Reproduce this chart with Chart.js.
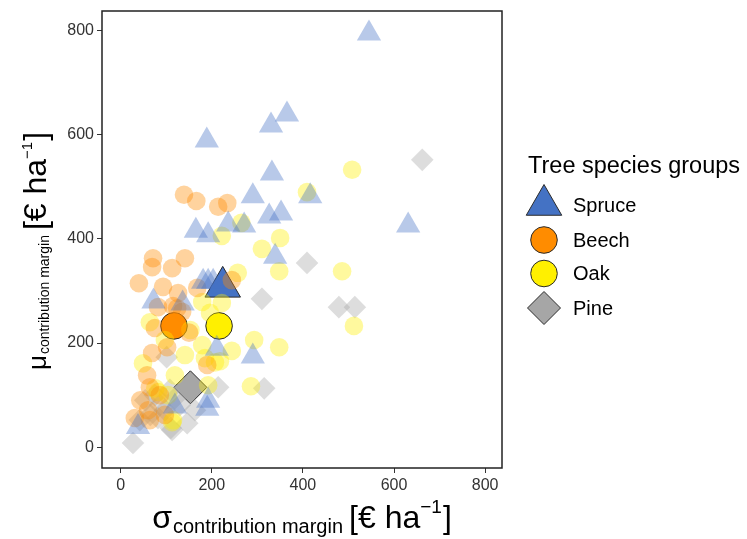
<!DOCTYPE html>
<html>
<head>
<meta charset="utf-8">
<script src="https://cdn.jsdelivr.net/npm/chart.js@4.4.1/dist/chart.umd.min.js"></script>
<style>
  html, body { margin: 0; padding: 0; background: #ffffff; }
  canvas { display: block; }
</style>
</head>
<body>
<canvas id="chart" width="747" height="539"></canvas>
<script>
// Stand-level economics: sigma (x) vs mu (y) of the contribution margin, €/ha
const speciesNames = ['Spruce', 'Beech', 'Oak', 'Pine'];

const spruceSigma = [545, 189, 330, 365, 332, 290, 271, 416, 326, 352, 236, 165, 192, 631, 339, 181, 192, 203, 72, 136, 211, 290, 192, 190, 38, 119];
const spruceMu    = [795, 589, 618, 639, 526, 482, 426, 482, 443, 449, 428, 416, 407, 426, 366, 318, 318, 318, 280, 276, 189, 174, 89, 74, 39, 78];

const beechSigma = [139, 166, 214, 234, 71, 69, 113, 141, 40, 93, 126, 168, 244, 82, 115, 124, 75, 69, 102, 58, 64, 190, 135, 43, 60, 86, 64, 97, 31, 150];
const beechMu    = [485, 473, 462, 469, 363, 346, 344, 363, 315, 308, 296, 306, 321, 269, 271, 267, 229, 181, 192, 138, 115, 158, 260, 90, 71, 100, 52, 62, 56, 220];

const oakSigma = [508, 409, 265, 222, 350, 310, 348, 257, 486, 222, 512, 293, 348, 244, 218, 286, 49, 64, 196, 115, 179, 141, 185, 207, 119, 82, 113, 192, 153, 97, 179, 76, 104];
const oakMu    = [533, 490, 431, 406, 402, 381, 338, 335, 338, 277, 233, 206, 192, 185, 165, 117, 161, 240, 258, 52, 196, 177, 171, 163, 138, 106, 48, 119, 225, 206, 279, 113, 100];

const pineSigma = [662, 409, 310, 479, 514, 315, 214, 146, 110, 27, 101, 163, 113, 54, 75, 86, 65, 97, 42, 119, 82, 130, 108];
const pineMu    = [552, 354, 285, 269, 269, 113, 115, 46, 37, 8, 173, 71, 33, 90, 100, 81, 62, 71, 52, 94, 56, 81, 110];

// group means (large outlined markers)
const meanSigma = [224, 117, 216, 153];
const meanMu    = [308, 233, 233, 115];

const axisTicks = [0, 200, 400, 600, 800];

const FONT = '"Liberation Sans", Arial, Helvetica, sans-serif';
const speciesColor = { Spruce: [68, 114, 196], Beech: [255, 140, 0], Oak: [255, 240, 0], Pine: [166, 166, 166] };
const speciesShape = { Spruce: 'triangle', Beech: 'circle', Oak: 'circle', Pine: 'rectRot' };
const plotRadius = { triangle: 14, circle: 9.3, rectRot: 11.3 };
const meanRadius = { triangle: 20.5, circle: 13.3, rectRot: 16.5 };

const rgba = (c, a) => `rgba(${c[0]},${c[1]},${c[2]},${a})`;
const pairs = (xs, ys) => xs.map((x, i) => ({ x: x, y: ys[i] }));

const rawSeries = { Spruce: [spruceSigma, spruceMu], Beech: [beechSigma, beechMu], Oak: [oakSigma, oakMu], Pine: [pineSigma, pineMu] };

const datasets = [];
speciesNames.forEach(name => {
  const shape = speciesShape[name];
  datasets.push({
    label: name + ' stands',
    data: pairs(rawSeries[name][0], rawSeries[name][1]),
    pointStyle: shape,
    pointRadius: plotRadius[shape],
    pointBackgroundColor: rgba(speciesColor[name], 0.38),
    pointBorderWidth: 0,
    pointBorderColor: 'rgba(0,0,0,0)'
  });
});
speciesNames.forEach((name, i) => {
  const shape = speciesShape[name];
  datasets.push({
    label: name,
    isMean: true,
    data: [{ x: meanSigma[i], y: meanMu[i] }],
    pointStyle: shape,
    pointRadius: meanRadius[shape],
    pointBackgroundColor: rgba(speciesColor[name], 1),
    pointBorderWidth: 1,
    pointBorderColor: '#2b2b2b'
  });
});

// Axis titles with sub/superscripts, drawn as runs of text pieces
function drawRun(ctx, pieces, center, baseline, rotated) {
  let total = 0;
  pieces.forEach(p => {
    ctx.font = `${p.size}px ${FONT}`;
    p.w = ctx.measureText(p.text).width;
    total += p.w + (p.gap || 0);
  });
  ctx.save();
  if (rotated) { ctx.translate(baseline, center); ctx.rotate(-Math.PI / 2); }
  else { ctx.translate(center, baseline); }
  ctx.fillStyle = '#000';
  ctx.textAlign = 'left';
  ctx.textBaseline = 'alphabetic';
  let x = -total / 2;
  pieces.forEach(p => {
    x += (p.gap || 0);
    ctx.font = `${p.size}px ${FONT}`;
    ctx.fillText(p.text, x, p.dy || 0);
    x += p.w;
  });
  ctx.restore();
}

function markerPath(ctx, shape, x, y, r) {
  ctx.beginPath();
  if (shape === 'circle') {
    ctx.arc(x, y, r, 0, Math.PI * 2);
  } else if (shape === 'triangle') {
    ctx.moveTo(x, y - r);
    ctx.lineTo(x + r * Math.sin(2 * Math.PI / 3), y + r / 2);
    ctx.lineTo(x - r * Math.sin(2 * Math.PI / 3), y + r / 2);
  } else {
    ctx.moveTo(x - r, y); ctx.lineTo(x, y - r); ctx.lineTo(x + r, y); ctx.lineTo(x, y + r);
  }
  ctx.closePath();
}

const panelAndLabels = {
  id: 'panelAndLabels',
  afterDraw(chart) {
    const ctx = chart.ctx;
    const a = chart.chartArea;
    // panel border
    ctx.save();
    ctx.strokeStyle = '#222';
    ctx.lineWidth = 1.5;
    ctx.strokeRect(a.left, a.top, a.right - a.left, a.bottom - a.top);
    ctx.restore();

    // axis titles
    drawRun(ctx, [
      { text: 'σ', size: 32 },
      { text: 'contribution margin', size: 20, dy: 5, gap: 1 },
      { text: '[€ ha', size: 32, gap: 6 },
      { text: '−1', size: 19, dy: -15 },
      { text: ']', size: 32, gap: 1 }
    ], (a.left + a.right) / 2, 528, false);

    drawRun(ctx, [
      { text: 'μ', size: 26 },
      { text: 'contribution margin', size: 14, dy: 3, gap: 1 },
      { text: '[€ ha', size: 32, gap: 5 },
      { text: '−1', size: 15, dy: -14 },
      { text: ']', size: 32, gap: 1 }
    ], 251, 46, true);

    // legend
    ctx.save();
    ctx.fillStyle = '#000';
    ctx.textAlign = 'left';
    ctx.textBaseline = 'alphabetic';
    ctx.font = `23.5px ${FONT}`;
    ctx.fillText('Tree species groups', 528, 173);
    const rowY = [205, 240, 273.5, 308];
    const means = chart.data.datasets.filter(d => d.isMean);
    means.forEach((d, i) => {
      markerPath(ctx, d.pointStyle, 544, rowY[i], d.pointRadius);
      ctx.fillStyle = d.pointBackgroundColor;
      ctx.fill();
      ctx.lineWidth = 1;
      ctx.strokeStyle = '#2b2b2b';
      ctx.stroke();
      ctx.fillStyle = '#000';
      ctx.font = `20px ${FONT}`;
      ctx.textBaseline = 'middle';
      ctx.fillText(d.label, 573, rowY[i] + 1);
    });
    ctx.restore();
  }
};

const axisCommon = {
  type: 'linear',
  afterBuildTicks: s => { s.ticks = axisTicks.map(v => ({ value: v })); },
  grid: { display: true, drawOnChartArea: false, drawTicks: true, tickLength: 5, color: '#333', lineWidth: 1 },
  border: { display: false },
  title: { display: false },
  ticks: { font: { family: FONT, size: 16 }, color: '#333', padding: 3, maxRotation: 0, autoSkip: false }
};

new Chart(document.getElementById('chart'), {
  type: 'scatter',
  data: { datasets: datasets },
  options: {
    responsive: false,
    animation: false,
    devicePixelRatio: 1,
    layout: { autoPadding: false, padding: { left: 0, top: 11, right: 245, bottom: 0 } },
    plugins: { legend: { display: false }, tooltip: { enabled: false } },
    scales: {
      x: Object.assign({}, axisCommon, {
        min: -41, max: 837,
        afterFit: s => { s.height = 71; s.paddingLeft = 0; s.paddingRight = 0; }
      }),
      y: Object.assign({}, axisCommon, {
        min: -40, max: 838,
        afterFit: s => { s.width = 102; s.paddingTop = 0; s.paddingBottom = 0; }
      })
    }
  },
  plugins: [panelAndLabels]
});
</script>
</body>
</html>
